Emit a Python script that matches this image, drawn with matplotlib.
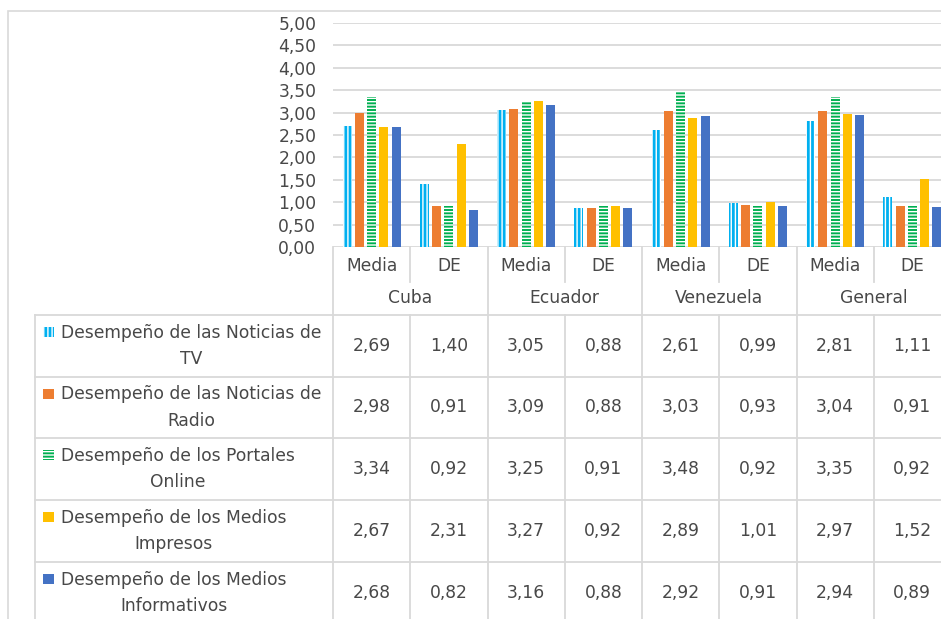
import matplotlib.pyplot as plt
import matplotlib.transforms as mtransforms
from matplotlib.patches import Rectangle
from matplotlib.lines import Line2D
import numpy as np

plt.rcParams['font.family'] = ['DejaVu Sans']
plt.rcParams['hatch.linewidth'] = 1.0

# data
countries = ["Cuba", "Ecuador", "Venezuela", "General"]
stats = ["Media", "DE"]
series_names = [
    "Desempeño de las Noticias de\nTV",
    "Desempeño de las Noticias de\nRadio",
    "Desempeño de los Portales\nOnline",
    "Desempeño de los Medios\nImpresos",
    "Desempeño de los Medios\nInformativos",
]
tv = [2.69, 1.40, 3.05, 0.88, 2.61, 0.99, 2.81, 1.11]
radio = [2.98, 0.91, 3.09, 0.88, 3.03, 0.93, 3.04, 0.91]
portales = [3.34, 0.92, 3.25, 0.91, 3.48, 0.92, 3.35, 0.92]
impresos = [2.67, 2.31, 3.27, 0.92, 2.89, 1.01, 2.97, 1.52]
informativos = [2.68, 0.82, 3.16, 0.88, 2.92, 0.91, 2.94, 0.89]
yticks = [0, 0.5, 1, 1.5, 2, 2.5, 3, 3.5, 4, 4.5, 5]

all_series = [tv, radio, portales, impresos, informativos]
colors = ["#00B0F0", "#ED7D31", "#00B050", "#FFC000", "#4472C4"]
hatches = ["||||", None, "-----", None, None]

W, H = 941, 619
grid_col = "#D9D9D9"
txt_col = "#484848"
fs = 12.3


def fx(x):
    return x / W


def fy(y):
    return 1 - y / H


fig = plt.figure(figsize=(W / 100, H / 100), dpi=100)

# outer chart border
fig.add_artist(Rectangle((fx(8), fy(700)), fx(1000), fy(11) - fy(700),
                         transform=fig.transFigure, fill=False,
                         edgecolor=grid_col, linewidth=1.2))

ax_left, ax_top, ax_bottom = 333, 23, 247
ax = fig.add_axes([fx(ax_left), fy(ax_bottom), fx(618), (ax_bottom - ax_top) / H])

n_cat = len(countries) * len(stats)
x = np.arange(n_cat)
bw = 0.1165
pitch = 0.159
for i, vals in enumerate(all_series):
    off = (i - 2) * pitch
    if hatches[i]:
        ax.bar(x + off, vals, width=bw, color=colors[i], edgecolor="white",
               linewidth=0, hatch=hatches[i], zorder=3)
    else:
        ax.bar(x + off, vals, width=bw, color=colors[i], linewidth=0, zorder=3)

ax.set_xlim(-0.5, n_cat - 0.5)
ax.set_ylim(0, 5)
ax.set_yticks(yticks)
ax.set_yticklabels([f"{v:.2f}".replace(".", ",") for v in yticks])
ax.tick_params(axis="y", length=0, pad=12, labelsize=fs, labelcolor=txt_col)
ax.set_xticks([])
ax.yaxis.grid(True, color=grid_col, linewidth=1.3, zorder=0)
for s in ax.spines.values():
    s.set_visible(False)

# table below the plot
bt = mtransforms.blended_transform_factory(ax.transData, fig.transFigure)
row_tops = [315, 377, 438, 500, 562, 624]
tbl_left = 35


def vline(xd, y0, y1):
    fig.add_artist(Line2D([xd, xd], [fy(y0), fy(y1)], transform=bt,
                          color=grid_col, linewidth=1.3))


def hline(x0, x1, y):
    fig.add_artist(Line2D([fx(x0), fx(x1)], [fy(y), fy(y)],
                          transform=fig.transFigure, color=grid_col, linewidth=1.3))


# header lines
for k in range(n_cat + 1):
    xd = k - 0.5
    if k % 2 == 0:
        vline(xd, ax_bottom, row_tops[-1])
    else:
        vline(xd, ax_bottom, 282)
        vline(xd, row_tops[0], row_tops[-1])
for y in row_tops:
    hline(tbl_left, 1000, y)
fig.add_artist(Line2D([fx(tbl_left)] * 2, [fy(row_tops[0]), fy(row_tops[-1])],
                      transform=fig.transFigure, color=grid_col, linewidth=1.3))

for k in range(n_cat):
    fig.text(k, fy(266), stats[k % 2], transform=bt, ha="center", va="center",
             fontsize=fs, color=txt_col)
for j, c in enumerate(countries):
    fig.text(2 * j + 0.5, fy(298), c, transform=bt, ha="center", va="center",
             fontsize=fs, color=txt_col)

for i, vals in enumerate(all_series):
    yc = (row_tops[i] + row_tops[i + 1]) / 2
    for k, v in enumerate(vals):
        fig.text(k, fy(yc), f"{v:.2f}".replace(".", ","), transform=bt,
                 ha="center", va="center", fontsize=fs, color=txt_col)
    fig.text(fx(61), fy(yc), series_names[i], ha="left", va="center",
             multialignment="center", fontsize=fs, color=txt_col,
             linespacing=1.6)
    mk = Rectangle((fx(43), fy(yc - 14 + 5)), fx(11), 10 / H,
                   transform=fig.transFigure, facecolor=colors[i],
                   edgecolor="white" if hatches[i] else colors[i],
                   linewidth=0, hatch=hatches[i])
    fig.add_artist(mk)

fig.savefig("out.png", dpi=100)
